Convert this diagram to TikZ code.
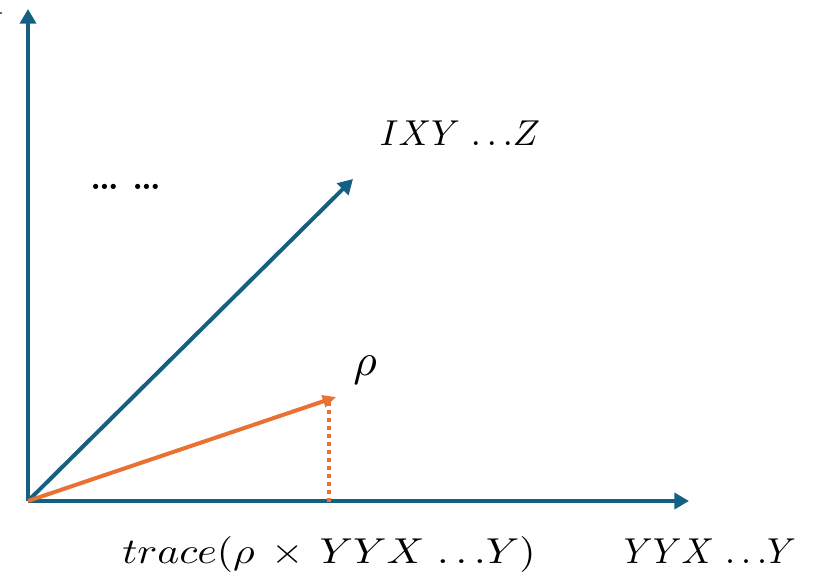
\documentclass[tikz,border=0pt]{standalone}
\DeclareFontFamily{OML}{cmm}{\skewchar\font'177}
\DeclareFontShape{OML}{cmm}{m}{it}{<->cmmi10}{}
\DeclareFontFamily{OMS}{cmsy}{\skewchar\font'60}
\DeclareFontShape{OMS}{cmsy}{m}{n}{<->cmsy10}{}
\DeclareFontFamily{OT1}{cmr}{\hyphenchar\font45}
\DeclareFontShape{OT1}{cmr}{m}{n}{<->cmr10}{}
\usetikzlibrary{arrows.meta}
\definecolor{axblue}{HTML}{156082}
\definecolor{vecorange}{HTML}{E97132}
\begin{document}
\begin{tikzpicture}[x=0.75pt,y=-0.75pt,
  axis/.style={draw=axblue,line width=3pt,-{Triangle[length=11pt,width=12pt]}},
  vecblue/.style={draw=axblue,line width=3pt,-{Triangle[length=11pt,width=12pt]}},
  vecor/.style={draw=vecorange,line width=3pt,-{Triangle[length=10pt,width=9pt]}},
  proj/.style={draw=vecorange,line width=3pt,dash pattern=on 3pt off 3pt},
  lbl/.style={inner sep=0pt,anchor=base,font=\fontsize{27}{30}\selectfont}]
\useasboundingbox (0,0) rectangle (818,574);
\coordinate (O) at (28,501);
\coordinate (ytip) at (28,9);
\coordinate (xtip) at (689,501);
\coordinate (btip) at (353,179);
\coordinate (otip) at (336,397);
\coordinate (pfoot) at (329,506);
\coordinate (ptop) at (329,402);
\draw[axis] (O) -- (ytip);
\draw[axis] (O) -- (xtip);
\draw[vecblue] (O) -- (btip);
\draw[proj] (ptop) -- (pfoot);
\draw[vecor] (O) -- (otip);
\node[lbl,anchor=base east] (ylab) at (4,38) {$Y$};
\node[lbl] (ixy) at (460,146) {$IXY\ {\ldots}Z$};
\node[lbl,font=\fontsize{27}{30}\selectfont\bfseries] (dots) at (126,190) {\ldots\hspace{10pt}\ldots};
\node[lbl,font=\fontsize{34}{38}\selectfont] (rho) at (365,375) {$\rho$};
\node[lbl] (trace) at (329,563) {\scalebox{1.16}[1]{$trace(\rho\,\times\,YYX\ {\ldots}Y)$}};
\node[lbl] (yyx) at (710,563) {$YYX\ {\ldots}Y$};
\end{tikzpicture}
\end{document}
